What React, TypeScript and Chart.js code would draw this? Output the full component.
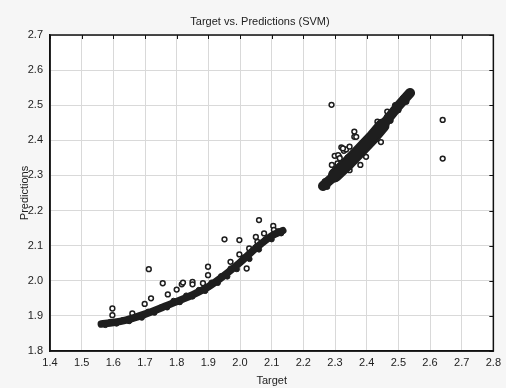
import React, { useEffect, useRef } from "react";
import { Chart, registerables } from "chart.js";

Chart.register(...registerables);

const titleText = "Target vs. Predictions (SVM)";
const xLabel = "Target";
const yLabel = "Predictions";

// Dense lower band (centre of the cloud)
const lowBandX = [1.562, 1.6, 1.64, 1.7, 1.77, 1.85, 1.9, 1.95, 2.0, 2.05, 2.1, 2.135];
const lowBandY = [1.877, 1.881, 1.888, 1.905, 1.93, 1.96, 1.983, 2.015, 2.052, 2.093, 2.128, 2.143];

// Ragged edge points of the lower band
const lowEdgeX = [1.575, 1.59, 1.61, 1.63, 1.65, 1.67, 1.69, 1.71, 1.73, 1.75, 1.77, 1.79, 1.81, 1.83, 1.85, 1.87, 1.89, 1.91, 1.93, 1.94, 1.96, 1.97, 1.99, 2.01, 2.03, 2.05, 2.06, 2.08, 2.1, 2.12, 2.13];
const lowEdgeY = [1.874, 1.883, 1.878, 1.888, 1.885, 1.897, 1.895, 1.912, 1.909, 1.924, 1.924, 1.943, 1.939, 1.958, 1.955, 1.974, 1.971, 1.995, 1.994, 2.013, 2.012, 2.035, 2.033, 2.066, 2.062, 2.096, 2.089, 2.118, 2.118, 2.141, 2.135];

// Dense upper band
const upBandX = [2.262, 2.3, 2.35, 2.4, 2.45, 2.5, 2.537];
const upBandY = [2.27, 2.3, 2.343, 2.392, 2.442, 2.498, 2.535];

// Thickest middle part of the upper band
const upCoreX = [2.3, 2.34, 2.38, 2.42, 2.45];
const upCoreY = [2.301, 2.335, 2.372, 2.41, 2.442];

const upEdgeX = [2.268, 2.275, 2.29, 2.3, 2.315, 2.325, 2.34, 2.35, 2.365, 2.375, 2.39, 2.4, 2.415, 2.425, 2.44, 2.45, 2.465, 2.475, 2.49, 2.5, 2.515, 2.525, 2.535];
const upEdgeY = [2.283, 2.268, 2.304, 2.289, 2.327, 2.311, 2.351, 2.333, 2.371, 2.356, 2.396, 2.379, 2.418, 2.405, 2.446, 2.431, 2.468, 2.456, 2.5, 2.486, 2.52, 2.51, 2.538];

// Scattered (hollow) points
const outX = [1.597, 1.597, 1.66, 1.699, 1.719, 1.712, 1.756, 1.772, 1.8, 1.816, 1.82, 1.85, 1.85, 1.883, 1.899, 1.899, 1.951, 1.97, 1.998, 1.998, 2.021, 2.029, 2.05, 2.055, 2.06, 2.076, 2.105, 2.107,
  2.289, 2.64, 2.64, 2.445, 2.361, 2.361, 2.32, 2.328, 2.299, 2.313, 2.346, 2.398, 2.434, 2.308, 2.335,
  2.31, 2.315, 2.325, 2.346, 2.367, 2.465, 2.29, 2.38];
const outY = [1.921, 1.902, 1.907, 1.934, 1.95, 2.033, 1.993, 1.961, 1.975, 1.99, 1.995, 1.997, 1.99, 1.993, 2.04, 2.016, 2.118, 2.054, 2.116, 2.075, 2.035, 2.092, 2.125, 2.111, 2.173, 2.135, 2.156, 2.145,
  2.501, 2.458, 2.348, 2.395, 2.425, 2.41, 2.38, 2.37, 2.356, 2.353, 2.315, 2.353, 2.453, 2.334, 2.374,
  2.358, 2.349, 2.377, 2.382, 2.41, 2.482, 2.33, 2.33];

const xMin = 1.4, xMax = 2.8, yMin = 1.8, yMax = 2.7, step = 0.1;

const zip = (xs: number[], ys: number[]) => xs.map((x, i) => ({ x, y: ys[i] }));

const FONT = "'Liberation Sans', Arial, sans-serif";
const DARK = "#1e1e1e";

export default function App() {
  const ref = useRef<HTMLCanvasElement | null>(null);
  useEffect(() => {
    document.body.style.margin = "0";
    const canvas = ref.current!;
    const framePlugin = {
      id: "frame",
      beforeDraw(chart: any) {
        const { ctx, chartArea: a } = chart;
        ctx.save();
        ctx.fillStyle = "#f6f6f6";
        ctx.fillRect(0, 0, chart.width, chart.height);
        ctx.fillStyle = "#ffffff";
        ctx.fillRect(a.left, a.top, a.right - a.left, a.bottom - a.top);
        ctx.restore();
      },
      afterDraw(chart: any) {
        const { ctx, chartArea: a, scales } = chart;
        ctx.save();
        ctx.strokeStyle = "#111";
        ctx.lineWidth = 1.5;
        ctx.strokeRect(a.left, a.top, a.right - a.left, a.bottom - a.top);
        ctx.lineWidth = 1;
        ctx.beginPath();
        scales.y.ticks.forEach((t: any) => {
          const py = Math.round(scales.y.getPixelForValue(t.value)) + 0.5;
          ctx.moveTo(a.right - 4, py);
          ctx.lineTo(a.right, py);
        });
        scales.x.ticks.forEach((t: any) => {
          const px = Math.round(scales.x.getPixelForValue(t.value)) + 0.5;
          ctx.moveTo(px, a.top);
          ctx.lineTo(px, a.top + 4);
        });
        ctx.stroke();
        ctx.fillStyle = "#222";
        ctx.font = `11px ${FONT}`;
        ctx.textAlign = "center";
        ctx.textBaseline = "middle";
        ctx.fillText(titleText, 260, 22);
        ctx.restore();
      },
    };
    const chart = new Chart(canvas, {
      type: "scatter",
      data: {
        datasets: [
          {
            data: zip(lowBandX, lowBandY),
            showLine: true,
            borderColor: DARK,
            borderWidth: 7.5,
            borderCapStyle: "round",
            cubicInterpolationMode: "monotone",
            pointRadius: 0,
          } as any,
          {
            data: zip(upBandX, upBandY),
            showLine: true,
            borderColor: DARK,
            borderWidth: 10,
            borderCapStyle: "round",
            pointRadius: 0,
          } as any,
          {
            data: zip(upCoreX, upCoreY),
            showLine: true,
            borderColor: DARK,
            borderWidth: 14,
            borderCapStyle: "round",
            pointRadius: 0,
          } as any,
          {
            data: zip(lowEdgeX, lowEdgeY),
            pointStyle: "circle",
            pointRadius: 2.6,
            borderWidth: 1,
            borderColor: DARK,
            backgroundColor: DARK,
          },
          {
            data: zip(upEdgeX, upEdgeY),
            pointStyle: "circle",
            pointRadius: 2.8,
            borderWidth: 1,
            borderColor: DARK,
            backgroundColor: DARK,
          },
          {
            data: zip(outX, outY),
            pointStyle: "circle",
            pointRadius: 2.4,
            borderWidth: 1.5,
            borderColor: DARK,
            backgroundColor: "#ffffff",
          },
        ],
      },
      options: {
        animation: false,
        responsive: false,
        layout: { padding: { top: 35, right: 7, left: 0, bottom: 0 } },
        plugins: {
          legend: { display: false },
          tooltip: { enabled: false },
          title: { display: false },
        },
        scales: {
          x: {
            type: "linear",
            min: xMin,
            max: xMax,
            afterFit: (s: any) => { s.height = 37; },
            ticks: {
              stepSize: step,
              padding: 5,
              color: "#222",
              font: { family: FONT, size: 11 },
              callback: (v: any) => Number(v).toFixed(1),
              maxRotation: 0,
              autoSkip: false,
            },
            grid: { color: "#d9d9d9", lineWidth: 1, drawTicks: false },
            border: { color: "#111", width: 1.5 },
            title: {
              display: true,
              text: xLabel,
              color: "#222",
              font: { family: FONT, size: 11 },
              padding: { top: 0, bottom: 0 },
            },
          },
          y: {
            type: "linear",
            min: yMin,
            max: yMax,
            afterFit: (s: any) => { s.width = 50; },
            ticks: {
              stepSize: step,
              padding: 7,
              color: "#222",
              font: { family: FONT, size: 11 },
              callback: (v: any) => Number(v).toFixed(1),
              autoSkip: false,
            },
            grid: { color: "#d9d9d9", lineWidth: 1, drawTicks: false },
            border: { color: "#111", width: 1.5 },
            title: {
              display: true,
              text: yLabel,
              color: "#222",
              font: { family: FONT, size: 11 },
              padding: { top: 18, bottom: 0 },
            },
          },
        },
      } as any,
      plugins: [framePlugin],
    });
    return () => chart.destroy();
  }, []);
  return (
    <div style={{ width: 506, height: 388 }}>
      <canvas ref={ref} width={506} height={388} style={{ width: 506, height: 388, display: "block" }} />
    </div>
  );
}
